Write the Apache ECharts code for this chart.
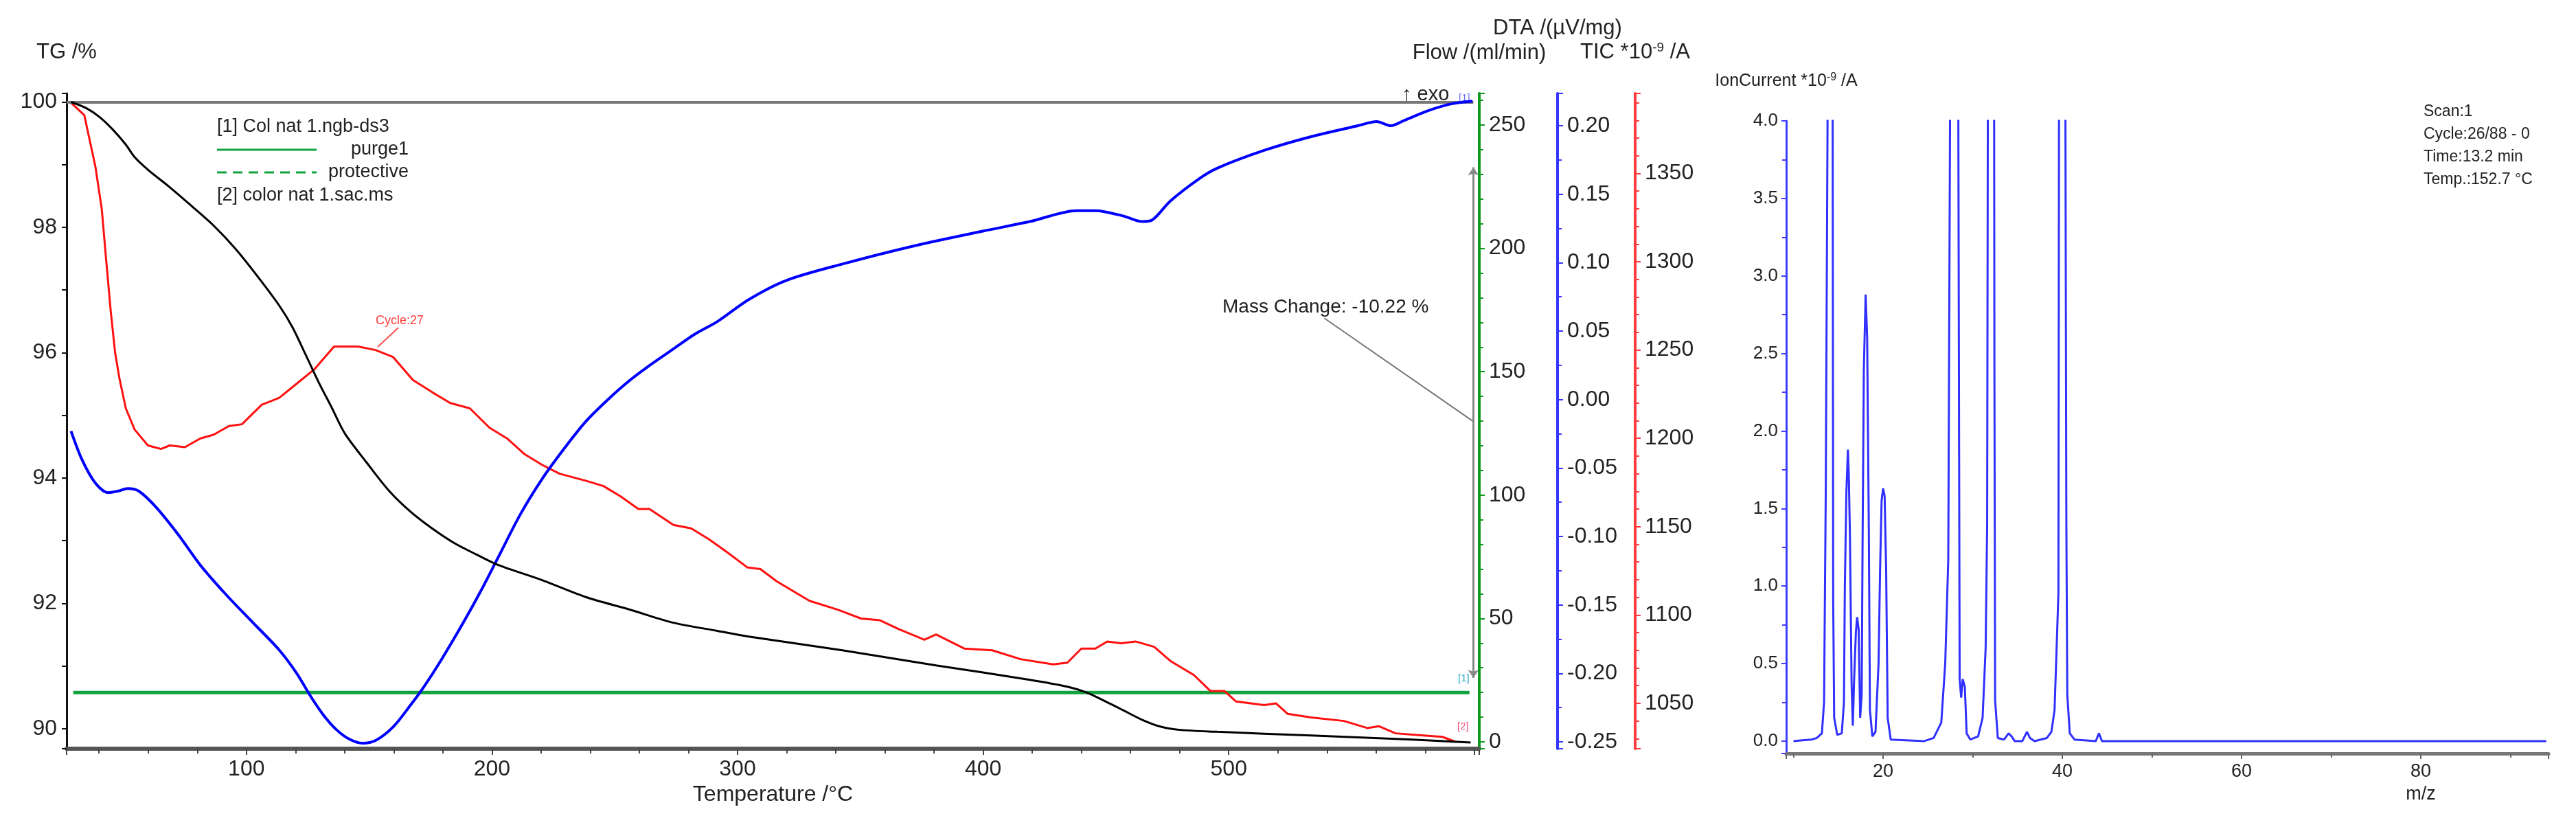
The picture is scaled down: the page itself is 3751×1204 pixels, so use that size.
<!DOCTYPE html>
<html>
<head>
<meta charset="utf-8">
<title>TG / DTA / MS</title>
<script src="https://cdn.jsdelivr.net/npm/echarts@6.0.0/dist/echarts.min.js"></script>
<style>
  html, body { margin: 0; padding: 0; background: #fff; }
  #chart { width: 3751px; height: 1204px; }
</style>
</head>
<body>
<div id="chart"></div>
<script>
// TG curve (mass %)
const tgTemp = [28.6, 34.9, 40.2, 45.6, 50.9, 54.5, 59.9, 68.8, 77.7, 86.6,
  95.5, 104.5, 113.4, 118.7, 124.1, 129.4, 134.8, 140.1, 149.1, 158.0,
  166.9, 175.8, 184.7, 193.6, 202.6, 220.4, 238.2, 256.1, 273.9, 291.8,
  304.5, 342.7, 380.8, 419.0, 434.3, 441.9, 449.5, 457.2, 464.8, 472.4,
  480.1, 495.3, 533.5, 571.6, 598.5];
const tgValue = [100.00, 99.90, 99.76, 99.56, 99.32, 99.12, 98.92, 98.64, 98.34, 98.03,
  97.66, 97.22, 96.75, 96.41, 95.97, 95.53, 95.12, 94.71, 94.24, 93.80,
  93.46, 93.19, 92.96, 92.78, 92.61, 92.37, 92.10, 91.90, 91.69, 91.56,
  91.47, 91.25, 91.01, 90.78, 90.67, 90.58, 90.44, 90.29, 90.14, 90.03,
  89.98, 89.95, 89.89, 89.83, 89.78];

// DTA curve (uV/mg)
const dtaTemp = [28.6, 33.1, 38.5, 43.8, 47.4, 51.8, 56.3, 63.4, 72.4, 81.3,
  92.0, 102.7, 113.4, 120.5, 125.9, 131.2, 136.6, 141.9, 147.3, 152.6,
  159.8, 166.9, 172.2, 179.4, 188.3, 195.4, 202.6, 211.5, 220.4, 229.3,
  238.2, 247.2, 256.1, 265.0, 273.9, 282.8, 291.8, 304.5, 319.8, 342.7,
  371.3, 399.9, 419.0, 438.1, 445.7, 457.2, 464.8, 468.7, 476.2, 487.7,
  495.3, 514.4, 533.5, 552.6, 560.2, 566.0, 571.6, 581.2, 590.7, 599.3];
const dtaValue = [-0.023, -0.044, -0.061, -0.068, -0.067, -0.065, -0.067, -0.079, -0.099, -0.121,
  -0.143, -0.163, -0.183, -0.200, -0.216, -0.230, -0.241, -0.248, -0.251, -0.249,
  -0.239, -0.223, -0.210, -0.190, -0.163, -0.140, -0.115, -0.084, -0.058, -0.036,
  -0.016, 0.000, 0.014, 0.026, 0.037, 0.048, 0.057, 0.073, 0.087, 0.099,
  0.112, 0.123, 0.130, 0.138, 0.138, 0.134, 0.130, 0.131, 0.145, 0.161,
  0.169, 0.182, 0.192, 0.200, 0.203, 0.200, 0.204, 0.211, 0.216, 0.218];

// TIC curve (*10^-9 A)
const ticTemp = [28.6, 34.0, 38.5, 41.1, 42.9, 44.7, 46.5, 48.3, 50.9, 54.5,
  59.9, 65.2, 68.8, 75.0, 81.3, 86.6, 92.9, 98.2, 106.2, 113.4,
  120.5, 127.6, 135.7, 145.5, 152.6, 159.8, 167.8, 175.8, 183.0, 191.0,
  199.0, 206.1, 213.3, 220.4, 227.5, 238.2, 245.4, 252.5, 259.6, 264.1,
  273.9, 281.1, 288.2, 295.3, 303.9, 309.3, 316.0, 329.3, 340.8, 350.3,
  358.0, 365.6, 376.1, 380.8, 392.3, 403.7, 415.2, 428.5, 434.3, 440.0,
  445.7, 450.5, 456.2, 462.0, 469.6, 476.2, 485.8, 492.5, 498.2, 503.0,
  514.4, 519.2, 524.0, 533.5, 546.9, 556.4, 561.2, 567.9, 577.4, 587.0,
  592.7];
const ticValue = [1390, 1383, 1354, 1330, 1301, 1273, 1249, 1234, 1217, 1205,
  1196, 1194, 1196, 1195, 1200, 1202, 1207, 1208, 1219, 1223,
  1231, 1239, 1252, 1252, 1250, 1246, 1233, 1226, 1220, 1217,
  1206, 1200, 1191, 1185, 1180, 1176, 1173, 1167, 1160, 1160,
  1151, 1149, 1143, 1136, 1127, 1126, 1119, 1108, 1103, 1098,
  1097, 1092, 1086, 1089, 1081, 1080, 1075, 1072, 1073, 1081,
  1081, 1085, 1084, 1085, 1082, 1074, 1066, 1057, 1057, 1051,
  1049, 1050, 1044, 1042, 1040, 1036, 1037, 1033, 1032, 1031,
  1028];

// purge gas flow (ml/min)
const flowTemp = [29.5, 598.0];
const flowValue = [20, 20];

// mass spectrum, scan 1 (values above 4.0 run off the top of the panel)
const msMz = [10.0, 11.0, 12.0, 12.6, 13.17, 13.41, 13.6, 13.85, 14.36, 14.43,
  14.54, 14.88, 15.39, 15.63, 15.73, 15.9, 16.07, 16.17, 16.3, 16.48,
  16.62, 16.76, 16.96, 17.1, 17.27, 17.44, 17.61, 17.71, 17.85, 18.05,
  18.22, 18.4, 18.53, 18.8, 19.15, 19.49, 19.66, 19.83, 20.0, 20.17,
  20.34, 20.51, 20.85, 24.6, 25.64, 26.49, 26.93, 27.27, 27.51, 28.37,
  28.54, 28.71, 28.88, 29.12, 29.32, 29.73, 30.6, 31.1, 31.44, 31.61,
  31.7, 32.38, 32.42, 32.5, 32.8, 33.5, 34.0, 34.34, 34.68, 35.54,
  36.05, 36.39, 36.9, 38.27, 38.78, 39.13, 39.36, 39.56, 39.64, 40.32,
  40.45, 40.55, 40.83, 41.35, 43.73, 44.08, 44.42, 94.0];
const msIon = [0.0, 0.005, 0.01, 0.02, 0.05, 0.25, 1.6, 4.6, 4.6, 0.9,
  0.15, 0.04, 0.05, 0.25, 1.0, 1.6, 1.88, 1.72, 1.32, 0.38,
  0.1, 0.39, 0.7, 0.8, 0.72, 0.15, 0.3, 1.3, 2.4, 2.88,
  2.6, 1.41, 0.2, 0.03, 0.06, 0.5, 1.1, 1.55, 1.63, 1.58,
  1.1, 0.15, 0.01, 0.0, 0.02, 0.12, 0.5, 1.17, 4.6, 4.6,
  0.4, 0.28, 0.4, 0.35, 0.05, 0.01, 0.03, 0.15, 0.6, 1.4,
  4.6, 4.6, 2.4, 0.26, 0.02, 0.01, 0.05, 0.03, 0.0, 0.0,
  0.06, 0.02, 0.0, 0.02, 0.06, 0.2, 0.6, 0.95, 4.6, 4.6,
  1.38, 0.3, 0.05, 0.01, 0.0, 0.05, 0.0, 0.0];

const scanInfo = ['Scan:1', 'Cycle:26/88 - 0', 'Time:13.2 min', 'Temp.:152.7 °C'];

const FONT = '"Liberation Sans", Arial, sans-serif';
const INK = '#222';

function pairs(xs, ys) {
  return xs.map((x, i) => [x, ys[i]]);
}
// only label the "round" ticks, the axis ends are not nice numbers
function multiples(step, digits, maxShown) {
  return function (v) {
    const k = v / step;
    if (Math.abs(k - Math.round(k)) > 1e-6) return '';
    if (maxShown != null && v > maxShown + 1e-9) return '';
    return v.toFixed(digits);
  };
}
function tickCfg(color, len) {
  return { show: true, length: len, lineStyle: { color: color, width: 2 } };
}

function yAxisRight(opts) {
  return {
    type: 'value', gridIndex: 0, position: 'right', offset: opts.offset,
    min: opts.min, max: opts.max, splitNumber: opts.splitNumber,
    name: opts.name, nameLocation: 'end', nameGap: opts.nameGap,
    nameTextStyle: { color: INK, fontSize: 31, fontFamily: FONT, rich: opts.rich || {} },
    axisLine: { show: true, onZero: false, lineStyle: { color: opts.color, width: 4 } },
    axisTick: tickCfg(opts.color, 8),
    minorTick: { show: true, splitNumber: opts.minor, length: 6, lineStyle: { color: opts.color, width: 2 } },
    splitLine: { show: false },
    axisLabel: { formatter: multiples(opts.step, opts.digits), margin: 14, color: INK, fontSize: 32, fontFamily: FONT }
  };
}

const chart = echarts.init(document.getElementById('chart'));

const option = {
  animation: false,
  backgroundColor: '#fff',
  textStyle: { fontFamily: FONT },
  grid: [
    { left: 97, top: 136, width: 2057, height: 954, containLabel: false, outerBoundsMode: 'none' },
    { left: 2601, top: 176, width: 1110, height: 921, containLabel: false, outerBoundsMode: 'none' }
  ],
  xAxis: [
    {
      type: 'value', gridIndex: 0, min: 26.8, max: 602, splitNumber: 6,
      name: 'Temperature /°C', nameLocation: 'middle', nameGap: 50,
      nameTextStyle: { color: INK, fontSize: 32, fontFamily: FONT },
      axisLine: { show: true, onZero: false, lineStyle: { color: '#555', width: 6 } },
      axisTick: tickCfg('#444', 9),
      minorTick: { show: true, splitNumber: 5, length: 7, lineStyle: { color: '#444', width: 2 } },
      splitLine: { show: false },
      axisLabel: { formatter: multiples(100, 0, 500), margin: 14, color: INK, fontSize: 32, fontFamily: FONT }
    },
    {
      type: 'value', gridIndex: 1, min: 9.19, max: 94.25, splitNumber: 4,
      axisLine: { show: true, onZero: false, lineStyle: { color: '#777', width: 5 } },
      axisTick: tickCfg('#666', 8),
      minorTick: { show: true, splitNumber: 2, length: 6, lineStyle: { color: '#666', width: 2 } },
      splitLine: { show: false },
      axisLabel: { formatter: multiples(20, 0), margin: 13, color: INK, fontSize: 27, fontFamily: FONT }
    }
  ],
  yAxis: [
    {
      type: 'value', gridIndex: 0, position: 'left', min: 89.68, max: 100.137, splitNumber: 5,
      name: 'TG /%', nameLocation: 'end', nameGap: 44,
      nameTextStyle: { color: INK, fontSize: 31, fontFamily: FONT },
      axisLine: { show: true, onZero: false, lineStyle: { color: '#111', width: 3 } },
      axisTick: tickCfg('#111', 7),
      minorTick: { show: true, splitNumber: 2, length: 7, lineStyle: { color: '#111', width: 2 } },
      splitLine: { show: false },
      axisLabel: { formatter: multiples(2, 0), margin: 14, color: INK, fontSize: 32, fontFamily: FONT }
    },
    yAxisRight({ offset: 0, min: -2.78, max: 262.8, splitNumber: 5, step: 50, digits: 0, minor: 5,
      color: '#0a9a1e', name: 'Flow /(ml/min)', nameGap: 43 }),
    yAxisRight({ offset: 114, min: -0.255, max: 0.2236, splitNumber: 9, step: 0.05, digits: 2, minor: 2,
      color: '#3535ff', name: 'DTA /(µV/mg)', nameGap: 79 }),
    yAxisRight({ offset: 227, min: 1024.3, max: 1395.3, splitNumber: 7, step: 50, digits: 0, minor: 5,
      color: '#ff3a3a', name: 'TIC *10{sup|-9} /A', nameGap: 43,
      rich: { sup: { fontSize: 19, fontFamily: FONT, color: INK, verticalAlign: 'top', padding: [0, 0, 14, 0] } } }),
    {
      type: 'value', gridIndex: 1, position: 'left', min: -0.08, max: 4.0, splitNumber: 8,
      name: 'IonCurrent *10{sup|-9} /A', nameLocation: 'end', nameGap: 44,
      nameTextStyle: { color: INK, fontSize: 25, fontFamily: FONT,
        rich: { sup: { fontSize: 16, fontFamily: FONT, color: INK, verticalAlign: 'top', padding: [0, 0, 11, 0] } } },
      axisLine: { show: true, onZero: false, lineStyle: { color: '#3d3dff', width: 3 } },
      axisTick: tickCfg('#3d3dff', 7),
      minorTick: { show: true, splitNumber: 2, length: 6, lineStyle: { color: '#3d3dff', width: 2 } },
      splitLine: { show: false },
      axisLabel: { formatter: multiples(0.5, 1), margin: 12, color: INK, fontSize: 26, fontFamily: FONT }
    }
  ],
  series: [
    {
      name: 'purge1', type: 'line', xAxisIndex: 0, yAxisIndex: 1,
      data: pairs(flowTemp, flowValue), showSymbol: false, z: 3,
      lineStyle: { color: '#10a23c', width: 5 }
    },
    {
      name: 'TIC', type: 'line', xAxisIndex: 0, yAxisIndex: 3,
      data: pairs(ticTemp, ticValue), showSymbol: false, z: 4,
      lineStyle: { color: '#ff1010', width: 3 },
      markLine: {
        silent: true, symbol: 'none', label: { show: false },
        lineStyle: { color: '#ff5050', width: 2, type: 'solid' },
        data: [[{ coord: [161.9, 1262.7] }, { coord: [153.5, 1251.8] }]]
      }
    },
    {
      name: 'DTA', type: 'line', xAxisIndex: 0, yAxisIndex: 2,
      data: pairs(dtaTemp, dtaValue), showSymbol: false, smooth: 0.3, z: 5,
      lineStyle: { color: '#0000ff', width: 4 }
    },
    {
      name: 'TG', type: 'line', xAxisIndex: 0, yAxisIndex: 0,
      data: pairs(tgTemp, tgValue), showSymbol: false, smooth: 0.3, z: 6,
      lineStyle: { color: '#000', width: 3 },
      markLine: {
        silent: true, symbol: 'none', label: { show: false },
        data: [
          [{ coord: [26.8, 100], lineStyle: { color: '#777', width: 4, type: 'solid' } }, { coord: [599.6, 100] }],
          [{ coord: [599.6, 98.96], symbol: 'arrow', symbolSize: 12, lineStyle: { color: '#888', width: 3, type: 'solid' } },
           { coord: [599.6, 90.81], symbol: 'arrow', symbolSize: 12 }],
          [{ coord: [538.9, 96.55], lineStyle: { color: '#777', width: 2, type: 'solid' } }, { coord: [599.3, 94.91] }]
        ]
      }
    },
    {
      name: 'IonCurrent', type: 'line', xAxisIndex: 1, yAxisIndex: 4,
      data: pairs(msMz, msIon), showSymbol: false, clip: true,
      lineStyle: { color: '#3030ff', width: 3 }
    }
  ],
  graphic: [
    // legend block of the thermal panel
    { type: 'text', x: 316, y: 185, style: { text: '[1] Col nat 1.ngb-ds3', fontSize: 27, fontFamily: FONT, fill: INK, align: 'left', verticalAlign: 'middle' } },
    { type: 'line', shape: { x1: 316, y1: 218, x2: 461, y2: 218 }, style: { stroke: '#10a23c', lineWidth: 3 } },
    { type: 'text', x: 595, y: 218, style: { text: 'purge1', fontSize: 27, fontFamily: FONT, fill: INK, align: 'right', verticalAlign: 'middle' } },
    { type: 'line', shape: { x1: 316, y1: 251, x2: 461, y2: 251 }, style: { stroke: '#10a23c', lineWidth: 3, lineDash: [14, 9] } },
    { type: 'text', x: 595, y: 251, style: { text: 'protective', fontSize: 27, fontFamily: FONT, fill: INK, align: 'right', verticalAlign: 'middle' } },
    { type: 'text', x: 316, y: 285, style: { text: '[2] color nat 1.sac.ms', fontSize: 27, fontFamily: FONT, fill: INK, align: 'left', verticalAlign: 'middle' } },
    // annotations
    { type: 'text', x: 1780, y: 447, style: { text: 'Mass Change: -10.22 %', fontSize: 28, fontFamily: FONT, fill: INK, align: 'left', verticalAlign: 'middle' } },
    { type: 'text', x: 2041, y: 138, style: { text: '↑ exo', fontSize: 29, fontFamily: FONT, fill: INK, align: 'left', verticalAlign: 'middle' } },
    { type: 'text', x: 547, y: 467, style: { text: 'Cycle:27', fontSize: 18, fontFamily: FONT, fill: '#ff3b3b', align: 'left', verticalAlign: 'middle' } },
    { type: 'text', x: 2124, y: 143, style: { text: '[1]', fontSize: 15, fontFamily: FONT, fill: '#6d6dff', align: 'left', verticalAlign: 'middle' } },
    { type: 'text', x: 2123, y: 988, style: { text: '[1]', fontSize: 15, fontFamily: FONT, fill: '#2aa8c8', align: 'left', verticalAlign: 'middle' } },
    { type: 'text', x: 2122, y: 1058, style: { text: '[2]', fontSize: 15, fontFamily: FONT, fill: '#f0507a', align: 'left', verticalAlign: 'middle' } },
    // mass spectrum panel
    { type: 'text', x: 3525, y: 1157, style: { text: 'm/z', fontSize: 27, fontFamily: FONT, fill: INK, align: 'center', verticalAlign: 'middle' } }
  ].concat(scanInfo.map((t, i) => ({
    type: 'text', x: 3529, y: 163 + i * 33,
    style: { text: t, fontSize: 23, fontFamily: FONT, fill: INK, align: 'left', verticalAlign: 'middle' }
  })))
};

chart.setOption(option);
</script>
</body>
</html>
